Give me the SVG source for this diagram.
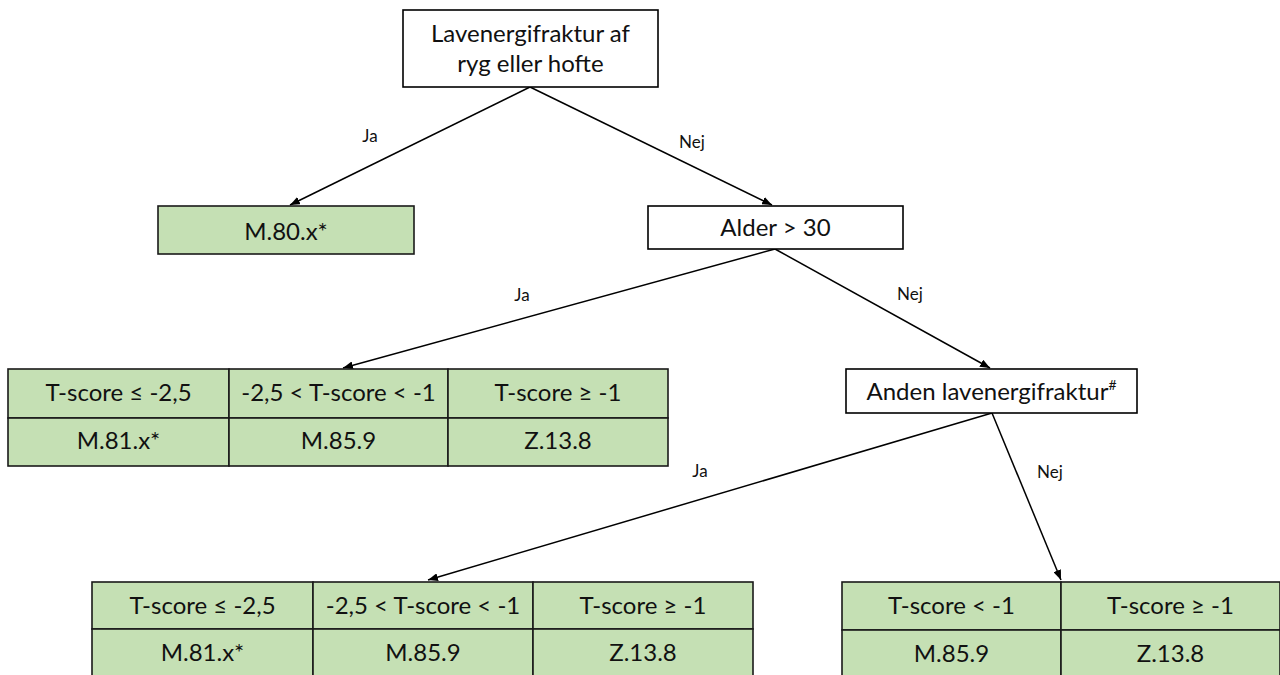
<svg xmlns="http://www.w3.org/2000/svg" width="1280" height="675" viewBox="0 0 1280 675">
<defs>
<marker id="arr" viewBox="0 0 10 8" refX="10" refY="4" markerWidth="10" markerHeight="8" markerUnits="userSpaceOnUse" orient="auto">
<path d="M0,0 L10,4 L0,8 Z" fill="#000"/>
</marker>
<style>
.box{fill:#ffffff;stroke:#000;stroke-width:1.6}
.cell{fill:#C5E0B4;stroke:#1a1a1a;stroke-width:1.6}
.t{font-family:Lato,"Open Sans","DejaVu Sans",sans-serif;font-size:24px;fill:#111;text-anchor:middle}
.lbl{font-family:Lato,"Open Sans","DejaVu Sans",sans-serif;font-size:17px;fill:#111;text-anchor:middle}
.edge{stroke:#000;stroke-width:1.5;fill:none;marker-end:url(#arr)}
</style>
</defs>
<rect width="1280" height="675" fill="#fff"/>

<g id="connectors">
<line class="edge" x1="530" y1="87" x2="290" y2="205"/>
<line class="edge" x1="530" y1="87" x2="772" y2="205"/>
<line class="edge" x1="775" y1="249" x2="343" y2="368"/>
<line class="edge" x1="775" y1="249" x2="990" y2="368"/>
<line class="edge" x1="992" y1="413" x2="428" y2="580"/>
<line class="edge" x1="992" y1="413" x2="1061" y2="580"/>
<text class="lbl" x="370" y="142">Ja</text>
<text class="lbl" x="692" y="148">Nej</text>
<text class="lbl" x="522" y="301">Ja</text>
<text class="lbl" x="910" y="300">Nej</text>
<text class="lbl" x="700" y="477">Ja</text>
<text class="lbl" x="1050" y="478">Nej</text>
</g>

<g id="root">
<rect class="box" x="403" y="10" width="255" height="77"/>
<text class="t" x="530.5" y="42">Lavenergifraktur af</text>
<text class="t" x="530.5" y="72">ryg eller hofte</text>
</g>

<g id="m80">
<rect class="cell" x="158" y="206" width="256" height="48"/>
<text class="t" x="286" y="240">M.80.x*</text>
</g>

<g id="alder">
<rect class="box" x="648" y="206" width="255" height="43"/>
<text class="t" x="775.5" y="236">Alder &gt; 30</text>
</g>

<g id="table1">
<rect class="cell" x="8" y="369" width="221" height="49"/>
<rect class="cell" x="229" y="369" width="219" height="49"/>
<rect class="cell" x="448" y="369" width="220" height="49"/>
<rect class="cell" x="8" y="418" width="221" height="48"/>
<rect class="cell" x="229" y="418" width="219" height="48"/>
<rect class="cell" x="448" y="418" width="220" height="48"/>
<text class="t" x="118.5" y="401">T-score ≤ -2,5</text>
<text class="t" x="338.5" y="401">-2,5 &lt; T-score &lt; -1</text>
<text class="t" x="558" y="401">T-score ≥ -1</text>
<text class="t" x="118.5" y="449">M.81.x*</text>
<text class="t" x="338.5" y="449">M.85.9</text>
<text class="t" x="558" y="449">Z.13.8</text>
</g>

<g id="anden">
<rect class="box" x="846" y="369" width="291" height="44"/>
<text class="t" x="991.5" y="400">Anden lavenergifraktur<tspan font-size="14" dy="-10">#</tspan></text>
</g>

<g id="table2">
<rect class="cell" x="92" y="582" width="221" height="47"/>
<rect class="cell" x="313" y="582" width="220" height="47"/>
<rect class="cell" x="533" y="582" width="220" height="47"/>
<rect class="cell" x="92" y="629" width="221" height="48"/>
<rect class="cell" x="313" y="629" width="220" height="48"/>
<rect class="cell" x="533" y="629" width="220" height="48"/>
<text class="t" x="202.5" y="614">T-score ≤ -2,5</text>
<text class="t" x="423" y="614">-2,5 &lt; T-score &lt; -1</text>
<text class="t" x="643" y="614">T-score ≥ -1</text>
<text class="t" x="202.5" y="661">M.81.x*</text>
<text class="t" x="423" y="661">M.85.9</text>
<text class="t" x="643" y="661">Z.13.8</text>
</g>

<g id="table3">
<rect class="cell" x="842" y="582" width="219" height="48"/>
<rect class="cell" x="1061" y="582" width="219" height="48"/>
<rect class="cell" x="842" y="630" width="219" height="47"/>
<rect class="cell" x="1061" y="630" width="219" height="47"/>
<text class="t" x="951.5" y="614">T-score &lt; -1</text>
<text class="t" x="1170.5" y="614">T-score ≥ -1</text>
<text class="t" x="951.5" y="662">M.85.9</text>
<text class="t" x="1170.5" y="662">Z.13.8</text>
</g>
</svg>
